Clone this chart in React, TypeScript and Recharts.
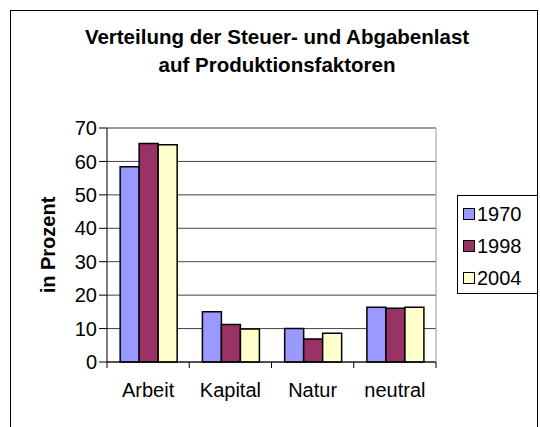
import React from 'react';
import { BarChart, Bar, XAxis, YAxis, CartesianGrid, Legend, ReferenceLine } from 'recharts';

const categories = ['Arbeit', 'Kapital', 'Natur', 'neutral'];
const years = ['1970', '1998', '2004'];
const values1970 = [58.4, 15, 10, 16.4];
const values1998 = [65.4, 11.2, 6.9, 16.1];
const values2004 = [65, 9.9, 8.6, 16.4];
const yTicks = [0, 10, 20, 30, 40, 50, 60, 70];

const colors = ['#9999ff', '#993366', '#ffffcc'];
const font = 'Arial, "Liberation Sans", sans-serif';

const data = categories.map((name, i) => ({
  name,
  '1970': values1970[i],
  '1998': values1998[i],
  '2004': values2004[i],
}));

// category label + tick marks between categories (excel style)
const CategoryTick = (props: any) => {
  const { x, y, payload, index } = props;
  const half = payload && payload.offset > 0 ? payload.offset : 329 / categories.length / 2;
  const left = x - half;
  const right = x + half;
  return (
    <g>
      <line x1={left} y1={y} x2={left} y2={y + 6} stroke="#000" strokeWidth={1} />
      {index === categories.length - 1 && <line x1={right} y1={y} x2={right} y2={y + 6} stroke="#000" strokeWidth={1} />}
      <text x={x} y={y + 35} textAnchor="middle" fill="#000" fontSize={20} fontFamily={font}>
        {payload.value}
      </text>
    </g>
  );
};

const LegendBox = () => (
  <div style={{ border: '1px solid #000', background: '#fff', padding: '2px 0 2px 5px', fontFamily: font, fontSize: 20, boxSizing: 'border-box', height: 99 }}>
    {years.map((y, i) => (
      <div key={y} style={{ display: 'flex', alignItems: 'center', height: 32 }}>
        <span style={{ width: 10, height: 10, border: '1.5px solid #000', background: colors[i], marginRight: 2 }} />
        <span>{y}</span>
      </div>
    ))}
  </div>
);

const App: React.FC = () => {
  return (
    <div style={{ position: 'absolute', left: 0, top: 0, width: 540, height: 427, background: '#fff', overflow: 'hidden' }}>
      <div style={{ position: 'absolute', left: 10, top: 10, width: 526, height: 430, border: '1px solid #000', borderBottom: 'none' }} />
      <div style={{ position: 'absolute', left: 0, top: 23, width: 554, textAlign: 'center', fontFamily: font, fontWeight: 'bold', fontSize: 20.5, lineHeight: '28px' }}>
        Verteilung der Steuer- und Abgabenlast
        <br />
        auf Produktionsfaktoren
      </div>
      <div style={{ position: 'absolute', left: 48, top: 245, transform: 'translate(-50%, -50%) rotate(-90deg)', fontFamily: font, fontWeight: 'bold', fontSize: 20, whiteSpace: 'nowrap' }}>
        in Prozent
      </div>
      <div style={{ position: 'absolute', left: 0, top: 0 }}>
        <BarChart
          width={540}
          height={427}
          data={data}
          margin={{ top: 128, right: 103, bottom: 35, left: 0 }}
          barCategoryGap="16%"
          barGap={0}
        >
          <CartesianGrid vertical={false} stroke="#444" />
          <XAxis
            dataKey="name"
            height={30}
            stroke="#000"
            tickLine={false}
            tickSize={0}
            tickMargin={0}
            interval={0}
            tick={<CategoryTick />}
          />
          <YAxis
            domain={[0, 70]}
            ticks={yTicks}
            width={107}
            stroke="#000"
            tickSize={8}
            tick={{ fill: '#000', fontSize: 20, fontFamily: font }}
          />
          <YAxis yAxisId="r" orientation="right" domain={[0, 70]} width={1} tick={false} tickLine={false} stroke="#999" />
          <ReferenceLine y={70} stroke="#999" />
          {years.map((y, i) => (
            <Bar
              key={y}
              dataKey={y}
              fill={colors[i]}
              stroke="#000"
              strokeWidth={1.5}
              isAnimationActive={false}
            />
          ))}
          <Legend
            layout="vertical"
            align="center"
            verticalAlign="middle"
            wrapperStyle={{ left: 457, top: 195, width: 81 }}
            content={() => <LegendBox />}
          />
        </BarChart>
      </div>
    </div>
  );
};

export default App;
